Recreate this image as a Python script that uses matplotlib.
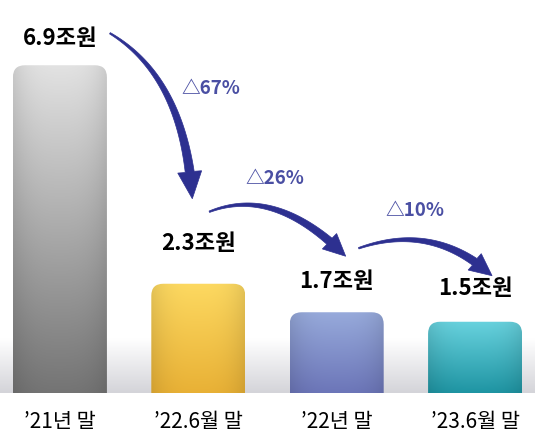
import numpy as np
import matplotlib
matplotlib.use("Agg")
from matplotlib import pyplot as plt
from matplotlib.patches import FancyBboxPatch, Polygon
from matplotlib.colors import to_rgb, LinearSegmentedColormap
from matplotlib.transforms import IdentityTransform

plt.rcParams['font.family'] = ['Noto Sans CJK KR', 'DejaVu Sans']

# data
categories = ["’21년 말", "’22.6월 말", "’22년 말", "’23.6월 말"]
values = [6.9, 2.3, 1.7, 1.5]
value_labels = ["6.9조원", "2.3조원", "1.7조원", "1.5조원"]
drops = [67, 26, 10]

# styling
top_colors = ["#e2e2e2", "#fdd961", "#97aadb", "#68d2de"]
bottom_colors = ["#6c6c6c", "#e4a82c", "#5f66ae", "#06808f"]
label_offsets = [27, 40, 31, 33]          # px above bar top
arrow_color = "#2d3090"
delta_color = "#4a4fa3"
# per arrow: start offset from label i, control offset from start, tip offset from label i+1 (px, y down)
arrow_geom = [((50, -5), (75, 45), (-6, -45)),
              ((11, -32), (66, -26), (9, -25)),
              ((22, -33), (75, -26), (17, -13))]
delta_offsets = [(60, -28), (-3, -55), (-10, -51)]

W, H = 535, 446
fig = plt.figure(figsize=(W / 100, H / 100), dpi=100)
fig.patch.set_facecolor("white")
ax = fig.add_axes([0, 53 / H, 1, 393 / H])
ax.set_facecolor("none")
ax.set_xlim(-0.433, 3.433)
ax.set_ylim(0, 393 / 47.5)
for s in ax.spines.values():
    s.set_visible(False)
ax.set_yticks([])
ax.set_xticks(range(len(categories)))
ax.set_xticklabels(categories, fontsize=15)
ax.tick_params(axis="x", length=0, pad=13)

# floor band
floor = LinearSegmentedColormap.from_list("floor", ["#d4d4d9", "#ffffff"])
ax.imshow(np.linspace(0, 1, 100).reshape(-1, 1), cmap=floor, aspect="auto",
          extent=(-0.433, 3.433, 0, 1.15), zorder=0, origin="lower")

px_x = ax.transData.transform((1, 0))[0] - ax.transData.transform((0, 0))[0]
px_y = ax.transData.transform((0, 1))[1] - ax.transData.transform((0, 0))[1]
bar_w = 94 / px_x
r = 12 / px_x

u = np.linspace(0, 1, 60)
edge = 1 - 0.10 * np.abs(2 * u - 1) ** 3
for i, v in enumerate(values):
    t = np.linspace(0, 1, 200)[:, None]  # 0 bottom -> 1 top
    c0 = np.array(to_rgb(bottom_colors[i]))
    c1 = np.array(to_rgb(top_colors[i]))
    img = (c0 * (1 - t[..., None]) + c1 * t[..., None]) * np.ones((1, 60, 1))
    img = img * edge[None, :, None]
    x0 = i - bar_w / 2
    clip = FancyBboxPatch((x0, -0.5), bar_w, v + 0.5,
                          boxstyle=f"round,pad=0,rounding_size={r}",
                          mutation_aspect=px_x / px_y,
                          facecolor="none", edgecolor="none")
    ax.add_patch(clip)
    im = ax.imshow(np.clip(img, 0, 1), extent=(x0, x0 + bar_w, -0.5, v), origin="lower",
                   aspect="auto", zorder=2)
    im.set_clip_path(clip)

# value labels
label_px = []
for i, v in enumerate(values):
    ax.annotate(value_labels[i], xy=(i, v), xytext=(0, label_offsets[i] * 0.72),
                textcoords="offset points", ha="center", va="center",
                fontsize=16, fontweight="bold", color="black", zorder=5)
    dx, dy = ax.transData.transform((i, v))
    label_px.append(np.array([dx, H - dy - label_offsets[i]]))


def tapered_arrow(p0, c, tip, w0=1.5, w1=8.0, head_w=22, head_len=24):
    ts = np.linspace(0, 1, 200)
    pts = ((1 - ts)[:, None] ** 2 * p0 + 2 * (ts * (1 - ts))[:, None] * c
           + ts[:, None] ** 2 * tip)
    keep = np.linalg.norm(pts - tip, axis=1) >= head_len
    shaft = pts[keep]
    d = np.gradient(shaft, axis=0)
    d /= np.linalg.norm(d, axis=1)[:, None]
    n = np.stack([-d[:, 1], d[:, 0]], axis=1)
    w = np.linspace(w0, w1, len(shaft))[:, None] / 2
    left = shaft + n * w
    right = shaft - n * w
    base = shaft[-1]
    hd = (tip - base) / np.linalg.norm(tip - base)
    hn = np.array([-hd[1], hd[0]])
    poly = np.vstack([left, base + hn * head_w / 2, tip, base - hn * head_w / 2, right[::-1]])
    poly[:, 1] = H - poly[:, 1]
    fig.add_artist(Polygon(poly, closed=True, facecolor=arrow_color, edgecolor=arrow_color,
                           linewidth=0.5, transform=IdentityTransform(), zorder=6))
    return p0, tip


for k, (s_off, c_off, t_off) in enumerate(arrow_geom):
    p0 = label_px[k] + np.array(s_off)
    c = p0 + np.array(c_off)
    tip = label_px[k + 1] + np.array(t_off)
    if k == 0:
        tapered_arrow(p0, c, tip, w1=9, head_w=24, head_len=26)
    else:
        tapered_arrow(p0, c, tip, w1=8, head_w=21, head_len=22)
    mid = (p0 + tip) / 2 + np.array(delta_offsets[k])
    fig.text(mid[0] / W, 1 - mid[1] / H, f"△{drops[k]}%", ha="center", va="center",
             fontsize=13.5, color=delta_color, fontweight="bold")

fig.savefig("out.png", dpi=100)
